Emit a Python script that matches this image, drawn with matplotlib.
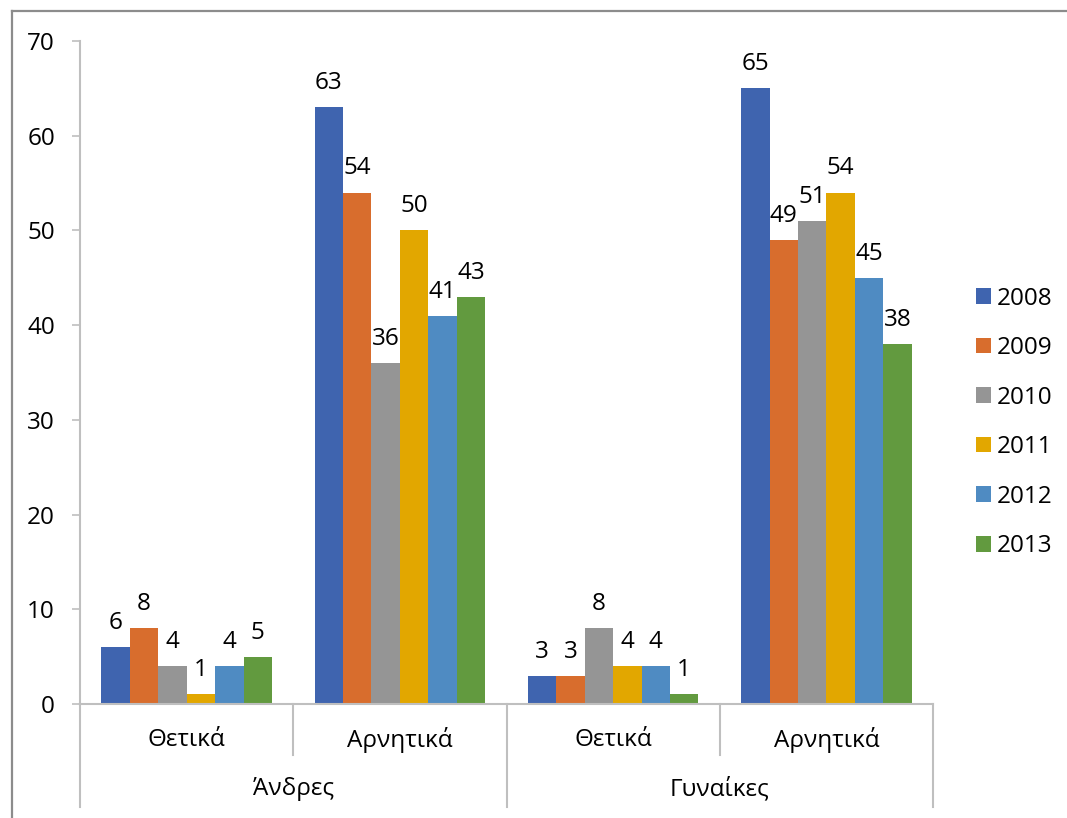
import matplotlib
matplotlib.use("Agg")
import matplotlib.pyplot as plt
from matplotlib.lines import Line2D
from matplotlib.transforms import blended_transform_factory
import numpy as np

plt.rcParams['font.family'] = ['Open Sans', 'DejaVu Sans']

# Data
groups = ["Άνδρες", "Γυναίκες"]
categories = ["Θετικά", "Αρνητικά", "Θετικά", "Αρνητικά"]
years = ["2008", "2009", "2010", "2011", "2012", "2013"]
v2008 = [6, 63, 3, 65]
v2009 = [8, 54, 3, 49]
v2010 = [4, 36, 8, 51]
v2011 = [1, 50, 4, 54]
v2012 = [4, 41, 4, 45]
v2013 = [5, 43, 1, 38]
series = [v2008, v2009, v2010, v2011, v2012, v2013]
colors = ["#3F64AF", "#D86D2D", "#959595", "#E2A700", "#4F8BC2", "#629A3F"]

FS = 17.5
axis_grey = "#BFBFBF"

fig = plt.figure(figsize=(10.67, 8.18), dpi=100)
ax = fig.add_axes([0.075, 0.1394, 0.7994, 0.8105])

x = np.arange(len(categories))
n = len(series)
w = 0.8 / n
for i, (vals, col, yr) in enumerate(zip(series, colors, years)):
    pos = x - 0.4 + w * (i + 0.5)
    bars = ax.bar(pos, vals, width=w, color=col, label=yr, zorder=2)
    for b, v in zip(bars, vals):
        ax.annotate(str(v), (b.get_x() + b.get_width() / 2, v),
                    xytext=(0, 13), textcoords="offset points",
                    ha="center", va="baseline", fontsize=FS, color="#000000")

ax.set_xlim(-0.5, len(categories) - 0.5)
ax.set_ylim(0, 70)
ax.set_yticks(range(0, 71, 10))
ax.tick_params(axis="y", length=6, width=1.2, color=axis_grey, pad=12,
               labelsize=FS)
ax.set_xticks([])
for s in ["top", "right"]:
    ax.spines[s].set_visible(False)
for s in ["left", "bottom"]:
    ax.spines[s].set_color(axis_grey)
    ax.spines[s].set_linewidth(1.5)

# Two-level category axis
tr = blended_transform_factory(ax.transData, ax.transAxes)
inner_bottom = -0.077
outer_bottom = -0.155
for xs in np.arange(-0.5, len(categories), 1.0):
    is_outer = int(round(xs + 0.5)) % 2 == 0
    ax.add_line(Line2D([xs, xs], [0, outer_bottom if is_outer else inner_bottom],
                       transform=tr, color=axis_grey, lw=1.5, clip_on=False))
for xi, c in zip(x, categories):
    ax.text(xi, -0.054, c, transform=tr, ha="center", va="center", fontsize=FS)
for gi, g in enumerate(groups):
    ax.text(2 * gi + 0.5, -0.128, g, transform=tr, ha="center", va="center",
            fontsize=FS)

leg = ax.legend(loc="center left", bbox_to_anchor=(0.9055, 0.4836),
                bbox_transform=fig.transFigure, frameon=False, fontsize=FS,
                handlelength=0.62, handleheight=0.62, handletextpad=0.25,
                labelspacing=1.05, borderaxespad=0)

# Chart frame edges
fig.add_artist(Line2D([12 / 1067, 1], [1 - 11 / 818, 1 - 11 / 818],
                      transform=fig.transFigure, color="#8C8C8C", lw=1.6))
fig.add_artist(Line2D([12 / 1067, 12 / 1067], [0, 1 - 11 / 818],
                      transform=fig.transFigure, color="#8C8C8C", lw=1.6))

fig.savefig("out.png", dpi=100)
